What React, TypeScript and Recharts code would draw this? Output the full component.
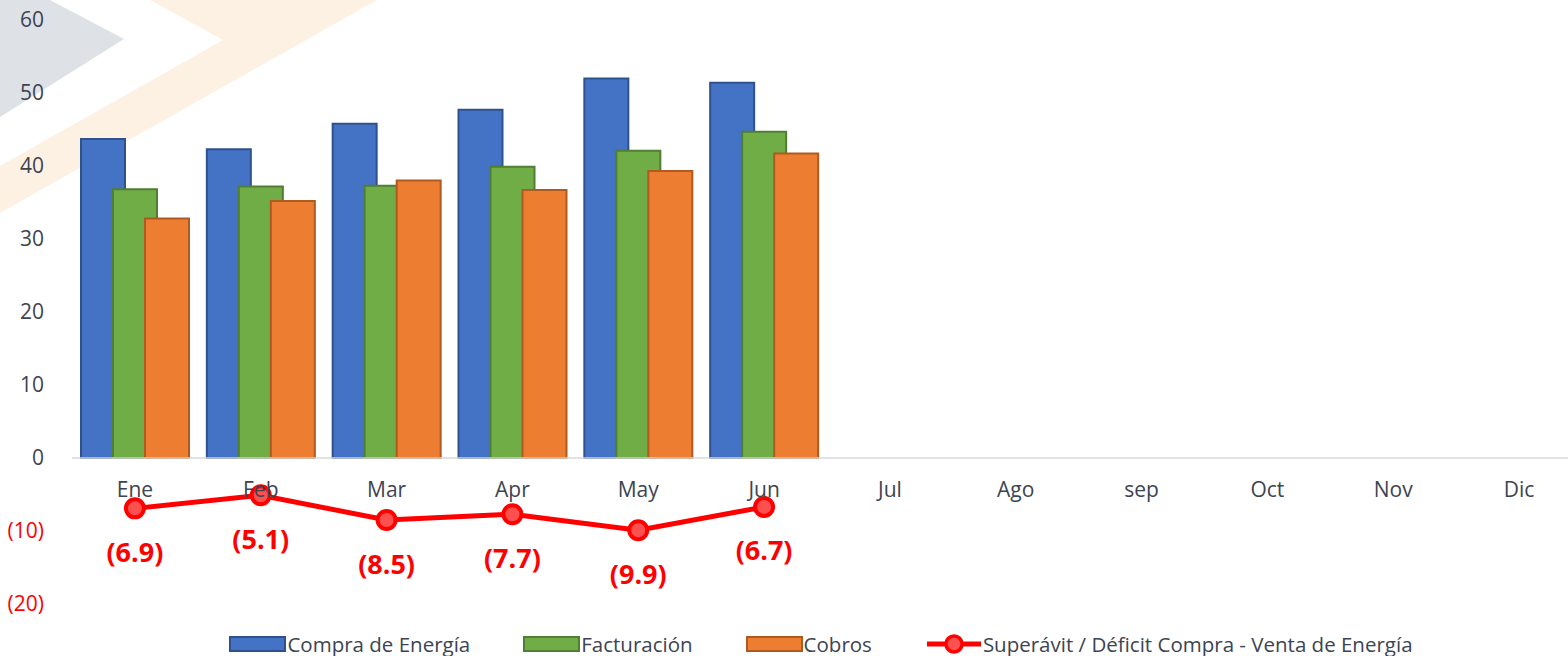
import { ComposedChart, Bar, Line, XAxis, YAxis, ReferenceLine, Legend, LabelList } from 'recharts'

const months = ['Ene', 'Feb', 'Mar', 'Apr', 'May', 'Jun', 'Jul', 'Ago', 'sep', 'Oct', 'Nov', 'Dic']
const compra = [43.7, 42.3, 45.8, 47.7, 52.0, 51.4]
const facturacion = [36.8, 37.2, 37.3, 39.9, 42.1, 44.7]
const cobros = [32.8, 35.2, 38.0, 36.7, 39.3, 41.7]
const saldo = [-6.9, -5.1, -8.5, -7.7, -9.9, -6.7]
const yTicks = [-20, -10, 0, 10, 20, 30, 40, 50, 60]

const data = months.map((m, i) => ({
  month: m,
  compra: compra[i] ?? null,
  facturacion: facturacion[i] ?? null,
  cobros: cobros[i] ?? null,
  saldo: saldo[i] ?? null,
}))

const W = 1568
const H = 656
const TEXT = '#3D4451'
const RED = '#FF0000'
const FONT = '"Open Sans", sans-serif'

const fmt = (v: number) => (v < 0 ? `(${Math.abs(v).toFixed(1)})` : `${v}`)

function YTick({ x, y, payload }: any) {
  const v = payload.value
  return (
    <text x={x} y={y} dy={7} textAnchor="end" fill={v < 0 ? RED : TEXT} fontSize={21} fontFamily={FONT}>
      {v < 0 ? `(${Math.abs(v)})` : v}
    </text>
  )
}

// x labels sit just under the zero line, not at the bottom of the plot
function XTick({ x, y, payload }: any) {
  return (
    <text x={x} y={y - 107} textAnchor="middle" fill={TEXT} fontSize={21} fontFamily={FONT}>
      {payload.value}
    </text>
  )
}

function SaldoLabel({ x, y, value }: any) {
  if (value == null) return null
  return (
    <text x={x} y={y + 43} textAnchor="middle" dominantBaseline="central" fill={RED} fontSize={27} fontWeight="bold" fontFamily={FONT}>
      {fmt(value)}
    </text>
  )
}

const legendItems = [
  { name: 'Compra de Energía', fill: '#4472C4', stroke: '#2F528F' },
  { name: 'Facturación', fill: '#70AD47', stroke: '#507E32' },
  { name: 'Cobros', fill: '#ED7D31', stroke: '#AE5A21' },
]

function LegendContent() {
  return (
    <div style={{ display: 'flex', justifyContent: 'center', alignItems: 'center', height: 24, lineHeight: '24px', paddingLeft: 74, fontFamily: FONT, fontSize: 20.5, color: TEXT, gap: 53 }}>
      {legendItems.map((it) => (
        <div key={it.name} style={{ display: 'flex', alignItems: 'center' }}>
          <svg width={58} height={17}>
            <rect x={1} y={1} width={55} height={14} fill={it.fill} stroke={it.stroke} strokeWidth={2} />
          </svg>
          <span>{it.name}</span>
        </div>
      ))}
      <div style={{ display: 'flex', alignItems: 'center' }}>
        <svg width={58} height={24}>
          <line x1={2} y1={12} x2={56} y2={12} stroke={RED} strokeWidth={5} />
          <circle cx={29} cy={12} r={8} fill="#FF5050" stroke={RED} strokeWidth={3.5} />
        </svg>
        <span>Superávit / Déficit Compra - Venta de Energía</span>
      </div>
    </div>
  )
}

export default function App() {
  return (
    <div style={{ position: 'relative', width: W, height: H, background: '#fff' }}>
      <style>{'body{margin:0}'}</style>
      <svg width={W} height={H} style={{ position: 'absolute', left: 0, top: 0 }}>
        <polygon points="0,0 50,0 124,39 0,117" fill="#DEE1E6" />
        <polygon points="150,0 377,0 0,213 0,166 223,40" fill="#FDF1E4" />
      </svg>
      <div style={{ position: 'absolute', left: 0, top: 0 }}>
        <ComposedChart
          width={W}
          height={H}
          data={data}
          margin={{ top: 20, right: -14, bottom: 0, left: 0 }}
          barSize={44}
          barGap={-12}
        >
          <XAxis
            dataKey="month"
            axisLine={false}
            tickLine={false}
            tickSize={0}
            tickMargin={0}
            height={28}
            tick={<XTick />}
            interval={0}
          />
          <YAxis
            width={72}
            domain={[-20, 60]}
            ticks={yTicks}
            axisLine={false}
            tickLine={false}
            tickSize={0}
            tickMargin={28}
            tick={<YTick />}
            interval={0}
          />
          <ReferenceLine y={0} stroke="#D9D9D9" strokeWidth={1.5} />
          <Bar dataKey="compra" name="Compra de Energía" fill="#4472C4" stroke="#2F528F" strokeWidth={2} isAnimationActive={false} />
          <Bar dataKey="facturacion" name="Facturación" fill="#70AD47" stroke="#507E32" strokeWidth={2} isAnimationActive={false} />
          <Bar dataKey="cobros" name="Cobros" fill="#ED7D31" stroke="#AE5A21" strokeWidth={2} isAnimationActive={false} />
          <Line
            dataKey="saldo"
            name="Superávit / Déficit Compra - Venta de Energía"
            stroke={RED}
            strokeWidth={5}
            dot={{ r: 9, fill: '#FF5050', stroke: RED, strokeWidth: 4 }}
            activeDot={false}
            isAnimationActive={false}
          >
            <LabelList dataKey="saldo" content={<SaldoLabel />} />
          </Line>
          <Legend verticalAlign="bottom" height={24} content={<LegendContent />} wrapperStyle={{ left: 0, width: W, height: 24 }} />
        </ComposedChart>
      </div>
    </div>
  )
}
